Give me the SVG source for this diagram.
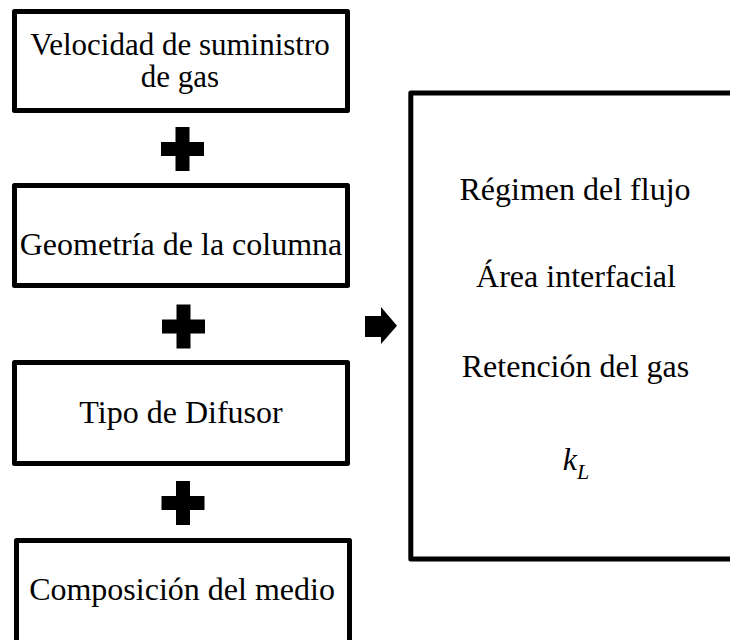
<svg xmlns="http://www.w3.org/2000/svg" width="730" height="640" viewBox="0 0 730 640">
<style>
.box{fill:#fff;stroke:#000;stroke-width:5;stroke-linejoin:round}
.t{font-family:'Liberation Serif','DejaVu Serif',serif;font-size:32px;fill:#000;text-anchor:middle}
.sym{fill:#000}
</style>
<defs>
<path id="plus" d="M-7,-22 H7 V-7 H21.5 V7 H7 V22 H-7 V7 H-21.5 V-7 H-7 Z"/>
</defs>
<rect width="730" height="640" fill="#fff"/>
<g id="node-velocidad">
<rect class="box" x="14.5" y="11.5" width="333" height="99"/>
<text class="t" x="180" y="55" style="font-size:31px">Velocidad de suministro</text>
<text class="t" x="180" y="87" style="font-size:31px">de gas</text>
</g>
<g id="node-geometria">
<rect class="box" x="14.5" y="185.5" width="333" height="100"/>
<text class="t" x="181" y="255">Geometría de la columna</text>
</g>
<g id="node-difusor">
<rect class="box" x="14.5" y="362.5" width="333" height="101"/>
<text class="t" x="181" y="423">Tipo de Difusor</text>
</g>
<g id="node-composicion">
<rect class="box" x="16.5" y="540.5" width="333" height="120"/>
<text class="t" x="182" y="600">Composición del medio</text>
</g>
<g id="node-resultados">
<rect class="box" x="410.8" y="93" width="340" height="466"/>
<text class="t" x="575" y="200">Régimen del flujo</text>
<text class="t" x="576" y="287">Área interfacial</text>
<text class="t" x="575.5" y="377">Retención del gas</text>
<text class="t" x="576" y="470" font-style="italic">k<tspan font-size="22" dy="9">L</tspan></text>
</g>
<g id="connectors">
<use href="#plus" class="sym" x="182.5" y="149"/>
<use href="#plus" class="sym" x="183.5" y="326.5"/>
<use href="#plus" class="sym" x="183" y="503"/>
<polygon class="sym" points="365,316 381,316 381,307 397,325.7 381,344 381,337 365,337"/>
</g>
</svg>
